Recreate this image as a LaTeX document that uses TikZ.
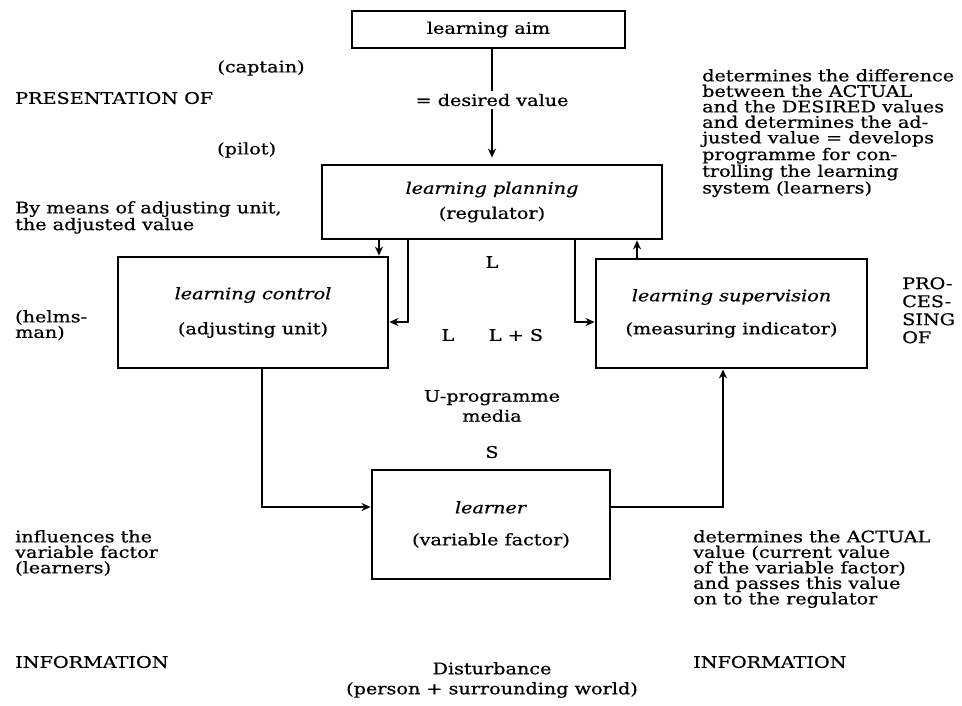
\documentclass[tikz,border=0pt]{standalone}
\usepackage{fontspec}
\setmainfont{DejaVu Serif}[FakeStretch=1.2,FakeBold=0.6]
\usetikzlibrary{arrows.meta}
\begin{document}
\begin{tikzpicture}[x=1pt,y=-1pt,
  every node/.style={font=\fontsize{16}{16}\selectfont},
  box/.style={draw, line width=2.8pt, inner sep=0pt, align=center},
  blk/.style={align=left, inner sep=0pt, anchor=north west, font=\fontsize{16}{15.5}\selectfont},
  lbl/.style={inner sep=0pt},
  conn/.style={line width=2.8pt},
  arr/.style={line width=2.8pt, -{Stealth[length=9pt,width=8pt]}}]
\useasboundingbox (0,0) rectangle (962,705);

% boxes
\node[box, minimum width=273pt, minimum height=37pt] (aim) at (488.5,29.5) {learning aim};
\node[box, minimum width=340pt, minimum height=74pt] (plan) at (492,202) {\textit{learning planning}\\[9pt](regulator)};
\node[box, minimum width=270pt, minimum height=111pt] (ctrl) at (253,312.5) {\textit{learning control}\\[19pt](adjusting unit)};
\node[box, minimum width=271pt, minimum height=109pt] (sup) at (731.5,313.5) {\textit{learning supervision}\\[17pt](measuring indicator)};
\node[box, minimum width=238pt, minimum height=109pt] (lrn) at (491,524.5) {\textit{learner}\\[16pt](variable factor)};

% labels
\node[lbl] (dv) at (492,100) {= desired value};
\node[lbl] (capt) at (261,68) {(captain)};
\node[lbl, anchor=west] (pres) at (15,98) {PRESENTATION OF};
\node[lbl, anchor=west] (pilot) at (217,150) {(pilot)};
\node[blk] (bym) at (15,201) {By means of adjusting unit,\\the adjusted value};
\node[blk] (helm) at (15,310) {(helms-\\man)};
\node[lbl] (L1) at (492,262) {L};
\node[lbl] (L2) at (448,335) {L};
\node[lbl] (LS) at (516,335) {L + S};
\node[lbl, align=center, font=\fontsize{16}{20}\selectfont] (upm) at (492,406) {U-programme\\media};
\node[lbl] (S) at (492,452) {S};
\node[blk, font=\fontsize{16}{18}\selectfont] (pro) at (902,277) {PRO-\\CES-\\SING\\OF};
\node[blk] (diff) at (702,69) {determines the difference\\between the ACTUAL\\and the DESIRED values\\and determines the ad-\\justed value = develops\\programme for con-\\trolling the learning\\system (learners)};
\node[blk] (infl) at (15,530) {influences the\\variable factor\\(learners)};
\node[lbl, anchor=west] (inf1) at (15,662) {INFORMATION};
\node[lbl, align=center, font=\fontsize{16}{20}\selectfont] (dist) at (492,680) {Disturbance\\(person + surrounding world)};
\node[blk] (act) at (693,530) {determines the ACTUAL\\value (current value\\of the variable factor)\\and passes this value\\on to the regulator};
\node[lbl, anchor=west] (inf2) at (693,662) {INFORMATION};

% connector helper points
\coordinate (xa) at (379,0);
\coordinate (lc) at (408,322);
\coordinate (rc) at (575,322);
\coordinate (xs) at (637,0);
\coordinate (bl) at (262,507);
\coordinate (br) at (723,507);

% connectors
\draw[conn, shorten >=3pt] (aim.south -| dv) -- (dv.north);
\draw[arr, shorten >=6pt, shorten <=3pt] (dv.south) -- (plan.north -| dv);
\draw[arr] (plan.south -| xa) -- (ctrl.north -| xa);
\draw[arr] (plan.south -| lc) -- (lc) -- (lc -| ctrl.east);
\draw[arr] (plan.south -| rc) -- (rc) -- (rc -| sup.west);
\draw[arr] (sup.north -| xs) -- (plan.south -| xs);
\draw[arr] (ctrl.south -| bl) -- (bl) -- (bl -| lrn.west);
\draw[arr] (lrn.east |- br) -- (br) -- (br |- sup.south);
\end{tikzpicture}
\end{document}
